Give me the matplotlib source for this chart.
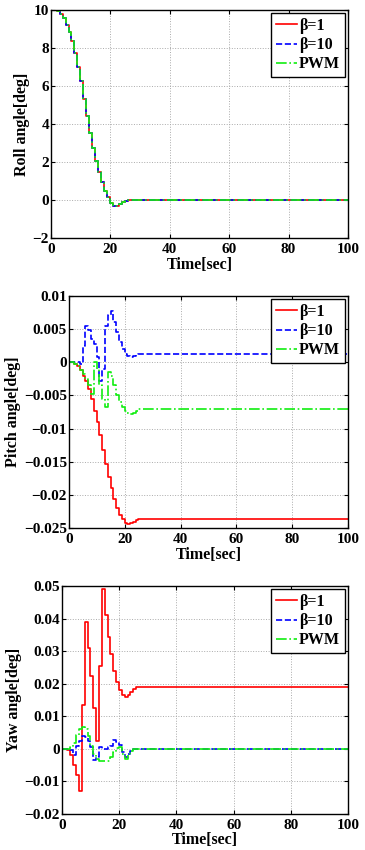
import numpy as np
import matplotlib
matplotlib.use('Agg')
import matplotlib.pyplot as plt
from matplotlib.ticker import FuncFormatter

# sample instants (values are held until the next instant)
t = [0, 0.9, 1.9, 2.9, 3.9, 4.9, 5.9, 6.9, 7.9, 8.9, 9.9, 10.9, 11.9, 12.9,
     13.9, 14.9, 15.9, 16.9, 17.9, 18.9, 19.9, 20.9, 21.9, 22.9, 23.9, 24.9,
     25.9, 100]

roll_b1 = [10, 10, 9.95, 9.8, 9.6, 9.2, 8.85, 8.35, 7.75, 7.0, 6.25, 5.3, 4.4,
           3.55, 2.75, 2.05, 1.45, 0.95, 0.5, 0.15, -0.15, -0.3, -0.3, -0.2,
           -0.1, -0.05, 0, 0]
roll_b10 = list(roll_b1)
roll_pwm = list(roll_b1)

pitch_b1 = [0, 0, -0.0002, -0.0006, -0.0012, -0.002, -0.0028, -0.004, -0.0055,
            -0.0073, -0.009, -0.011, -0.0133, -0.0154, -0.0173, -0.019, -0.0206,
            -0.022, -0.023, -0.0237, -0.0242, -0.0244, -0.0243, -0.0241,
            -0.0238, -0.0236, -0.0236, -0.0236]
pitch_b10 = [0, 0, 0, 0, -0.0003, 0.0025, 0.0055, 0.0048, 0.0035, 0.0027,
             0.0008, -0.0028, -0.001, 0.0055, 0.0072, 0.0078, 0.006, 0.0045,
             0.003, 0.002, 0.0012, 0.001, 0.0008, 0.0009, 0.0011, 0.0012,
             0.0013, 0.0013]
pitch_pwm = [0, 0, -0.0002, -0.0006, -0.0012, -0.0018, -0.0025, -0.0035,
             -0.0048, 0.0, -0.001, -0.0035, -0.0055, -0.0068, -0.0015, -0.002,
             -0.0035, -0.005, -0.006, -0.0068, -0.0074, -0.0077, -0.0078,
             -0.0076, -0.0073, -0.0071, -0.007, -0.007]

yaw_b1 = [0, 0, -0.0003, -0.002, -0.005, -0.008, -0.013, 0.0135, 0.039, 0.031,
          0.0225, 0.0125, 0.0025, 0.0255, 0.049, 0.041, 0.0345, 0.029, 0.024,
          0.0205, 0.018, 0.0165, 0.016, 0.0165, 0.0175, 0.0185, 0.019, 0.019]
yaw_b10 = [0, 0, 0, -0.0005, -0.002, 0.001, 0.0025, 0.004, 0.0035, 0.0025,
           0.0005, -0.0035, -0.0025, 0.0005, 0.0, -0.0002, 0.0005, 0.001,
           0.0027, 0.0022, 0.0012, -0.001, -0.0025, -0.0015, -0.0007, -0.0002,
           0, 0]
yaw_pwm = [0, 0, 0, 0.0005, 0.0018, 0.0043, 0.006, 0.0068, 0.006, 0.004,
           0.0008, -0.0015, -0.003, -0.0036, -0.0038, -0.0039, -0.0036,
           -0.0025, -0.001, 0.0003, 0.0005, -0.0015, -0.003, -0.002, -0.0006,
           0, 0, 0]

labels = ['\u03b2=1', '\u03b2=10', 'PWM']
x_ticks = [0, 20, 40, 60, 80, 100]

plt.rcParams['font.family'] = ['Liberation Serif', 'DejaVu Serif']
plt.rcParams['font.weight'] = 'bold'
plt.rcParams['font.size'] = 11.5


def fmt(v, pos):
    s = '{:g}'.format(round(v, 6))
    return s.replace('-', '\u2212')


def panel(fig, rect, series, ylabel, yticks):
    ax = fig.add_axes(rect)
    styles = [('#ff0000', '-'), ('#0000ff', '--'), ('#11ee11', '-.')]
    for vals, (c, ls), lab in zip(series, styles, labels):
        ax.plot(t, vals, color=c, ls=ls, lw=1.2, drawstyle='steps-post', label=lab)
    ax.set_xlim(0, 100)
    ax.set_ylim(yticks[0], yticks[-1])
    ax.set_xticks(x_ticks)
    ax.set_yticks(yticks)
    ax.xaxis.set_major_formatter(FuncFormatter(fmt))
    ax.yaxis.set_major_formatter(FuncFormatter(fmt))
    ax.tick_params(direction='in', length=3, top=True, right=True, labelsize=11)
    ax.tick_params(axis='y', pad=1.5)
    ax.tick_params(axis='x', pad=3.5)
    ax.grid(True, ls=':', color='#aaaaaa', lw=0.7)
    for s in ax.spines.values():
        s.set_linewidth(1.0)
    ax.set_xlabel('Time[sec]', fontweight='bold', fontsize=11.5, labelpad=0.5)
    ax.set_ylabel(ylabel, fontweight='bold', fontsize=11.5, labelpad=2)
    leg = ax.legend(loc='upper right', fancybox=False, framealpha=1,
                    edgecolor='black', borderaxespad=0.2, handlelength=1.3,
                    handletextpad=0.15, labelspacing=0.2, borderpad=0.3,
                    prop={'weight': 'bold', 'size': 11.5})
    leg.get_frame().set_linewidth(1.0)
    return ax


fig = plt.figure(figsize=(3.65, 8.5), dpi=100)

panel(fig, [0.1397, 0.72, 0.8137, 0.2682], [roll_b1, roll_b10, roll_pwm],
      'Roll angle[deg]', [-2, 0, 2, 4, 6, 8, 10])
panel(fig, [0.189, 0.3788, 0.7644, 0.273], [pitch_b1, pitch_b10, pitch_pwm],
      'Pitch angle[deg]', [-0.025, -0.02, -0.015, -0.01, -0.005, 0, 0.005, 0.01])
panel(fig, [0.170, 0.0425, 0.7836, 0.268], [yaw_b1, yaw_b10, yaw_pwm],
      'Yaw angle[deg]', [-0.02, -0.01, 0, 0.01, 0.02, 0.03, 0.04, 0.05])

fig.savefig('out.png', dpi=100)
